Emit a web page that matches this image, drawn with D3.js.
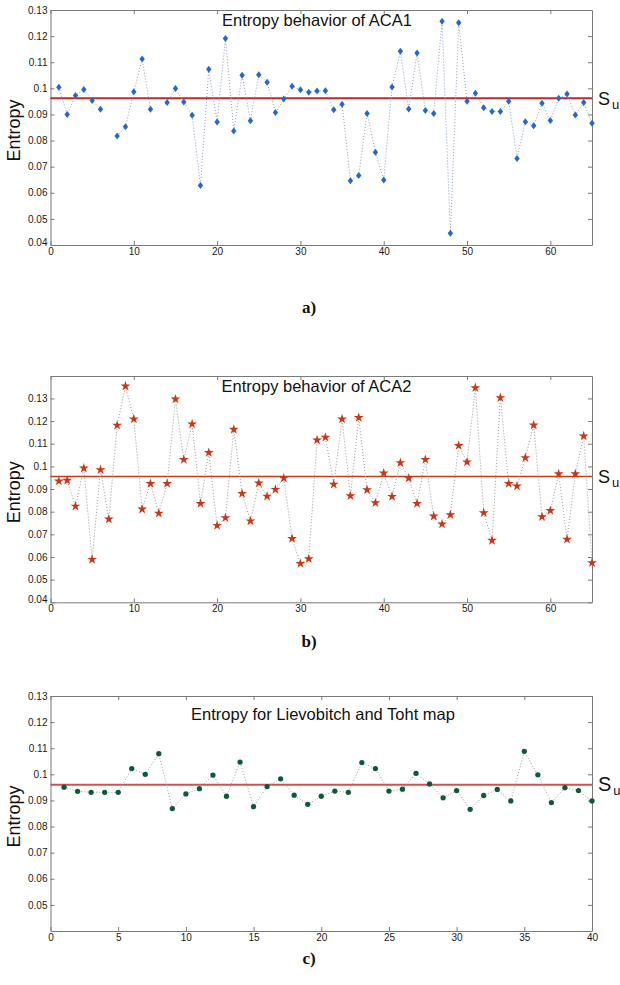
<!DOCTYPE html>
<html lang="en">
<head>
<meta charset="UTF-8">
<title>Entropy behavior</title>
<style>
  body { margin: 0; background: #fff; }
  svg { font-family: Arial, "Liberation Sans", sans-serif; }
</style>
</head>
<body>
<script src="https://cdn.jsdelivr.net/npm/d3@7"></script>
<script>
  // entropy per iteration (null = no marker drawn)
  const entropyACA1 = [
    0.1004, 0.0900, 0.0973, 0.0996, 0.0953, 0.0920, null, 0.0817, 0.0853, 0.0987,
    0.1112, 0.0920, null, 0.0946, 0.0999, 0.0948, 0.0897, 0.0628, 0.1073, 0.0871,
    0.1191, 0.0837, 0.1050, 0.0876, 0.1052, 0.1023, 0.0907, 0.0959, 0.1008, 0.0995,
    0.0985, 0.0990, 0.0991, 0.0918, 0.0939, 0.0646, 0.0666, 0.0904, 0.0755, 0.0649,
    0.1005, 0.1142, 0.0921, 0.1135, 0.0915, 0.0904, 0.1257, 0.0445, 0.1251, 0.0951,
    0.0981, 0.0926, 0.0911, 0.0911, 0.0951, 0.0731, 0.0872, 0.0857, 0.0943, 0.0877,
    0.0962, 0.0978, 0.0898, 0.0946, 0.0866
  ];
  const entropyACA2 = [
    0.0935, 0.0938, 0.0824, 0.0992, 0.0589, 0.0985, 0.0767, 0.1181, 0.1354, 0.1209,
    0.0811, 0.0924, 0.0793, 0.0924, 0.1297, 0.1030, 0.1187, 0.0836, 0.1061, 0.0739,
    0.0773, 0.1163, 0.0880, 0.0759, 0.0926, 0.0868, 0.0898, 0.0948, 0.0681, 0.0571,
    0.0592, 0.1116, 0.1128, 0.0921, 0.1209, 0.0870, 0.1215, 0.0896, 0.0839, 0.0970,
    0.0867, 0.1016, 0.0948, 0.0836, 0.1030, 0.0780, 0.0745, 0.0786, 0.1092, 0.1019,
    0.1347, 0.0795, 0.0673, 0.1303, 0.0924, 0.0913, 0.1038, 0.1182, 0.0777, 0.0805,
    0.0967, 0.0678, 0.0967, 0.1134, 0.0574
  ];
  const entropyLT = [
    0.0951, 0.0935, 0.0931, 0.0931, 0.0931, 0.1022, 0.1000, 0.1079, 0.0869, 0.0925,
    0.0945, 0.0997, 0.0916, 0.1047, 0.0876, 0.0953, 0.0983, 0.0920, 0.0885, 0.0916,
    0.0936, 0.0931, 0.1045, 0.1022, 0.0936, 0.0943, 0.1004, 0.0963, 0.0910, 0.0938,
    0.0866, 0.0919, 0.0942, 0.0898, 0.1088, 0.0998, 0.0892, 0.0949, 0.0938, 0.0898
  ];
  const thresholdSu = [0.0962, 0.0955, 0.0960];
  const titles = ['Entropy behavior of ACA1', 'Entropy behavior of ACA2', 'Entropy for Lievobitch and Toht map'];
  const panelLabels = ['a)', 'b)', 'c)'];
  const yTicksAB = [0.04, 0.05, 0.06, 0.07, 0.08, 0.09, 0.1, 0.11, 0.12, 0.13];
  const yTicksC = [0.05, 0.06, 0.07, 0.08, 0.09, 0.1, 0.11, 0.12, 0.13];
  const xTicks65 = [0, 10, 20, 30, 40, 50, 60];
  const xTicks40 = [0, 5, 10, 15, 20, 25, 30, 35, 40];

  const W = 620, H = 985;
  const left = 50.5, right = 592;
  const sans = 'Arial, "Liberation Sans", sans-serif';

  const panels = [
    { data: entropyACA1, top: 10, bottom: 245, yMax: 0.13, xMax: 65, xTicks: xTicks65, yTicks: yTicksAB,
      marker: 'diamond', color: '#2468c8', lineColor: '#8e9cc4', suColor: '#c1272d', suWidth: 1.8,
      titleX: 317, titleY: 26, labelY: 313, suSize: 18 },
    { data: entropyACA2, top: 376, bottom: 602.3, yMax: 0.1399, xMax: 65, xTicks: xTicks65, yTicks: yTicksAB,
      marker: 'star', color: '#cc3516', lineColor: '#9a9a9a', suColor: '#c33c1c', suWidth: 1.5,
      titleX: 316.5, titleY: 392, labelY: 647, suSize: 18 },
    { data: entropyLT, top: 696, bottom: 931, yMax: 0.13, xMax: 40, xTicks: xTicks40, yTicks: yTicksC,
      marker: 'circle', color: '#0d5a3a', lineColor: '#9a9a9a', suColor: '#d4504c', suWidth: 2,
      titleX: 323, titleY: 720, labelY: 964, suSize: 20 }
  ];

  const svg = d3.select('body').append('svg')
    .attr('width', W)
    .attr('height', H);

  const diamondPath = 'M0,-3.5L2.7,0L0,3.5L-2.7,0Z';
  const starPath = d3.symbol().type(d3.symbolStar).size(30)();
  const circlePath = d3.symbol().type(d3.symbolCircle).size(22)();

  panels.forEach((p, k) => {
    const x = d3.scaleLinear().domain([0, p.xMax]).range([left, right]);
    const y = d3.scaleLinear().domain([0.04, p.yMax]).range([p.bottom, p.top]);
    const g = svg.append('g');

    // box with inward ticks (matlab style)
    const fmt = (d) => String(+d.toFixed(2));
    const axes = [
      g.append('g').attr('transform', `translate(${left},0)`)
        .call(d3.axisLeft(y).tickValues(p.yTicks).tickFormat(fmt).tickSizeInner(-4).tickSizeOuter(0).tickPadding(3)),
      g.append('g').attr('transform', `translate(${right},0)`)
        .call(d3.axisRight(y).tickValues(p.yTicks).tickFormat('').tickSizeInner(-4).tickSizeOuter(0)),
      g.append('g').attr('transform', `translate(0,${p.bottom})`)
        .call(d3.axisBottom(x).tickValues(p.xTicks).tickFormat(d3.format('d')).tickSizeInner(-4).tickSizeOuter(0).tickPadding(3)),
      g.append('g').attr('transform', `translate(0,${p.top})`)
        .call(d3.axisTop(x).tickValues(p.xTicks).tickFormat('').tickSizeInner(-4).tickSizeOuter(0))
    ];
    axes.forEach((a) => {
      a.attr('font-family', sans).attr('font-size', 10);
      a.select('.domain').attr('stroke', '#7a7a7a');
      a.selectAll('.tick line').attr('stroke', '#7a7a7a');
      a.selectAll('.tick text').attr('fill', '#1a1a1a');
    });
    // the 0.04 label sits slightly above the corner
    axes[0].selectAll('.tick text').filter((d) => d === 0.04).attr('dy', '0.05em');

    // Su threshold
    g.append('line')
      .attr('x1', left).attr('x2', right)
      .attr('y1', y(thresholdSu[k])).attr('y2', y(thresholdSu[k]))
      .attr('stroke', p.suColor)
      .attr('stroke-width', p.suWidth);

    const su = g.append('text')
      .attr('x', right + 6)
      .attr('y', y(thresholdSu[k]) + 6.5)
      .attr('font-size', p.suSize)
      .attr('fill', '#111')
      .text('S');
    su.append('tspan')
      .attr('dx', 2)
      .attr('dy', 4)
      .attr('font-size', 13)
      .text('u');

    // dotted connecting line
    const line = d3.line()
      .defined((d) => d != null)
      .x((d, i) => x(i + 1))
      .y((d) => y(d));
    g.append('path')
      .datum(p.data)
      .attr('d', line)
      .attr('fill', 'none')
      .attr('stroke', p.lineColor)
      .attr('stroke-width', 1)
      .attr('stroke-dasharray', '1,2');

    const shape = p.marker === 'diamond' ? diamondPath : p.marker === 'star' ? starPath : circlePath;
    g.selectAll('path.mark')
      .data(p.data.map((v, i) => [i + 1, v]).filter((d) => d[1] != null))
      .enter()
      .append('path')
      .attr('class', 'mark')
      .attr('d', shape)
      .attr('transform', (d) => `translate(${x(d[0])},${y(d[1])})`)
      .attr('fill', p.color);

    g.append('text')
      .attr('x', p.titleX)
      .attr('y', p.titleY)
      .attr('text-anchor', 'middle')
      .attr('font-size', 16.5)
      .attr('fill', '#111')
      .text(titles[k]);

    g.append('text')
      .attr('transform', `translate(19.5,${(p.top + p.bottom) / 2 + 3}) rotate(-90)`)
      .attr('text-anchor', 'middle')
      .attr('font-size', 18)
      .attr('fill', '#111')
      .text('Entropy');

    g.append('text')
      .attr('x', 309)
      .attr('y', p.labelY)
      .attr('text-anchor', 'middle')
      .attr('font-family', '"Liberation Serif", "Times New Roman", serif')
      .attr('font-weight', 'bold')
      .attr('font-size', 17)
      .attr('fill', '#111')
      .text(panelLabels[k]);
  });
</script>
</body>
</html>
